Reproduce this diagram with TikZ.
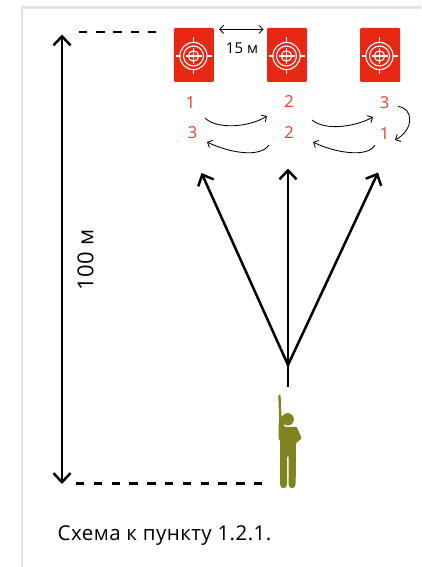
\documentclass[tikz,border=0pt]{standalone}
\usepackage{fontspec}
\setmainfont{Open Sans}
\newfontfamily\widefont[LetterSpace=2.2]{Open Sans}
\usetikzlibrary{arrows.meta}
\definecolor{tred}{HTML}{E62814}
\definecolor{nred}{HTML}{EF3B2D}
\definecolor{olive}{HTML}{7F8420}
\definecolor{frame}{HTML}{E2E2E2}
\tikzset{
  bigtip/.tip={Straight Barb[length=9pt,width=17pt,line width=2.5pt]},
  thintip/.tip={Straight Barb[length=4pt,width=8pt,line width=0.85pt]},
  bigarrow/.style={line width=2.5pt,-bigtip},
  thinarrow/.style={line width=0.85pt,-thintip},
  dashline/.style={line width=2.2pt},
  num/.style={text=nred,font=\fontsize{16.5}{16.5}\selectfont,inner sep=0pt},
  lab/.style={text=black,inner sep=0pt},
  tcard/.style={fill=tred,draw=none,rounded corners=1.2pt,minimum width=40pt,minimum height=54pt,inner sep=0pt}
}
\newcommand{\ringmark}[1]{%
  \begin{scope}[shift={(#1)},draw=white,line width=1.1pt]
    \draw (0,0) circle (13.6);
    \draw (0,0) circle (10);
    \draw (0,0) circle (5.2);
    \draw (-8,0)--(8,0) (0,-8)--(0,8);
    \draw (-18,0)--(-13.6,0) (13.6,0)--(18,0) (0,-18.5)--(0,-13.6) (0,13.6)--(0,18.5);
  \end{scope}}
\begin{document}
\begin{tikzpicture}[x=1pt,y=-1pt]
\useasboundingbox (0,0) rectangle (421,567);
\fill[white] (0,0) rectangle (421,567);
\draw[frame,line width=2.6pt] (22,567) -- (22,7.5) -- (421,7.5);
% targets
\node[tcard] (t1) at (193.8,55) {};
\node[tcard] (t2) at (287,55) {};
\node[tcard] (t3) at (380.2,55) {};
\ringmark{193.5,56}
\ringmark{286.5,56}
\ringmark{379.5,56}
% numbers
\node[num] (a1) at (190.7,103) {1};
\node[num] (a3) at (192.5,132.5) {3};
\node[num] (b2) at (289,101.5) {2};
\node[num] (b22) at (289,132.5) {2};
\node[num] (c3) at (384.5,102.5) {3};
\node[num] (c1) at (384.5,133.5) {1};
% curved arrows
\coordinate (p1) at (205,118); \coordinate (p2) at (267,116);
\coordinate (p3) at (269,145); \coordinate (p4) at (207,142);
\coordinate (p5) at (312,120); \coordinate (p6) at (373,117);
\coordinate (p7) at (375,145); \coordinate (p8) at (313,142);
\coordinate (p9) at (398,106.5); \coordinate (p10) at (395,140);
\draw[thinarrow] (p1) .. controls (217,130) and (250,127) .. (p2);
\draw[thinarrow] (p3) .. controls (260,158) and (230,153) .. (p4);
\draw[thinarrow] (p5) .. controls (325,131) and (355,127) .. (p6);
\draw[thinarrow] (p7) .. controls (368,158) and (335,153) .. (p8);
\draw[thinarrow] (p9) .. controls (414,108) and (414,130) .. (p10);
% 15 m
\coordinate (d1) at (219,29.3); \coordinate (d2) at (263.5,29.3);
\draw[line width=0.85pt,thintip-thintip] (d1) -- (d2);
\node[lab,font=\fontsize{15}{15}\selectfont] (dist) at (242,48) {15 м};
% fan of arrows
\coordinate (s0) at (288,387); \coordinate (s1) at (288,365);
\coordinate (e1) at (201.5,173); \coordinate (e2) at (288,168.5); \coordinate (e3) at (378,172.5);
\draw[line width=2.5pt] (s0) -- (s1);
\draw[bigarrow] (s1) -- (e1);
\draw[bigarrow] (s1) -- (e2);
\draw[bigarrow] (s1) -- (e3);
% 100 m
\coordinate (h1) at (62,34.5); \coordinate (h2) at (62,484);
\draw[line width=2.5pt,bigtip-bigtip] (h1) -- (h2);
\node[lab,rotate=90,font=\fontsize{22}{22}\widefont] (hundred) at (85.5,260) {100 м};
\coordinate (u1) at (79,32); \coordinate (u2) at (157,32);
\coordinate (l1) at (76,483.5); \coordinate (l2) at (263,483.5);
\draw[dashline,dash pattern=on 8.3pt off 8.9pt] (u1) -- (u2);
\draw[dashline,dash pattern=on 8.3pt off 9.5pt] (l1) -- (l2);
% person
\fill[olive] (287.7,419.3) circle (6.2);
\fill[olive,rounded corners=0.8pt] (278.3,395) -- (280.6,395) -- (281.4,415) -- (283,422) -- (284.5,426.8) -- (296.7,426.8) -- (301.7,438.3) -- (296,443.3) -- (295.7,483)
  .. controls (295.7,489.5) and (289,489.5) .. (288.7,484) -- (288.6,456) -- (287.2,456) -- (287,484)
  .. controls (286.5,489.5) and (280,489.5) .. (280,483) -- (280,440) -- (278.5,439) -- (278.5,424) -- (279.2,422) -- cycle;
% caption
\node[lab,anchor=west,font=\fontsize{20.5}{20.5}\widefont] (cap) at (57.5,535.5) {Схема к пункту 1.2.1.};
\end{tikzpicture}
\end{document}
